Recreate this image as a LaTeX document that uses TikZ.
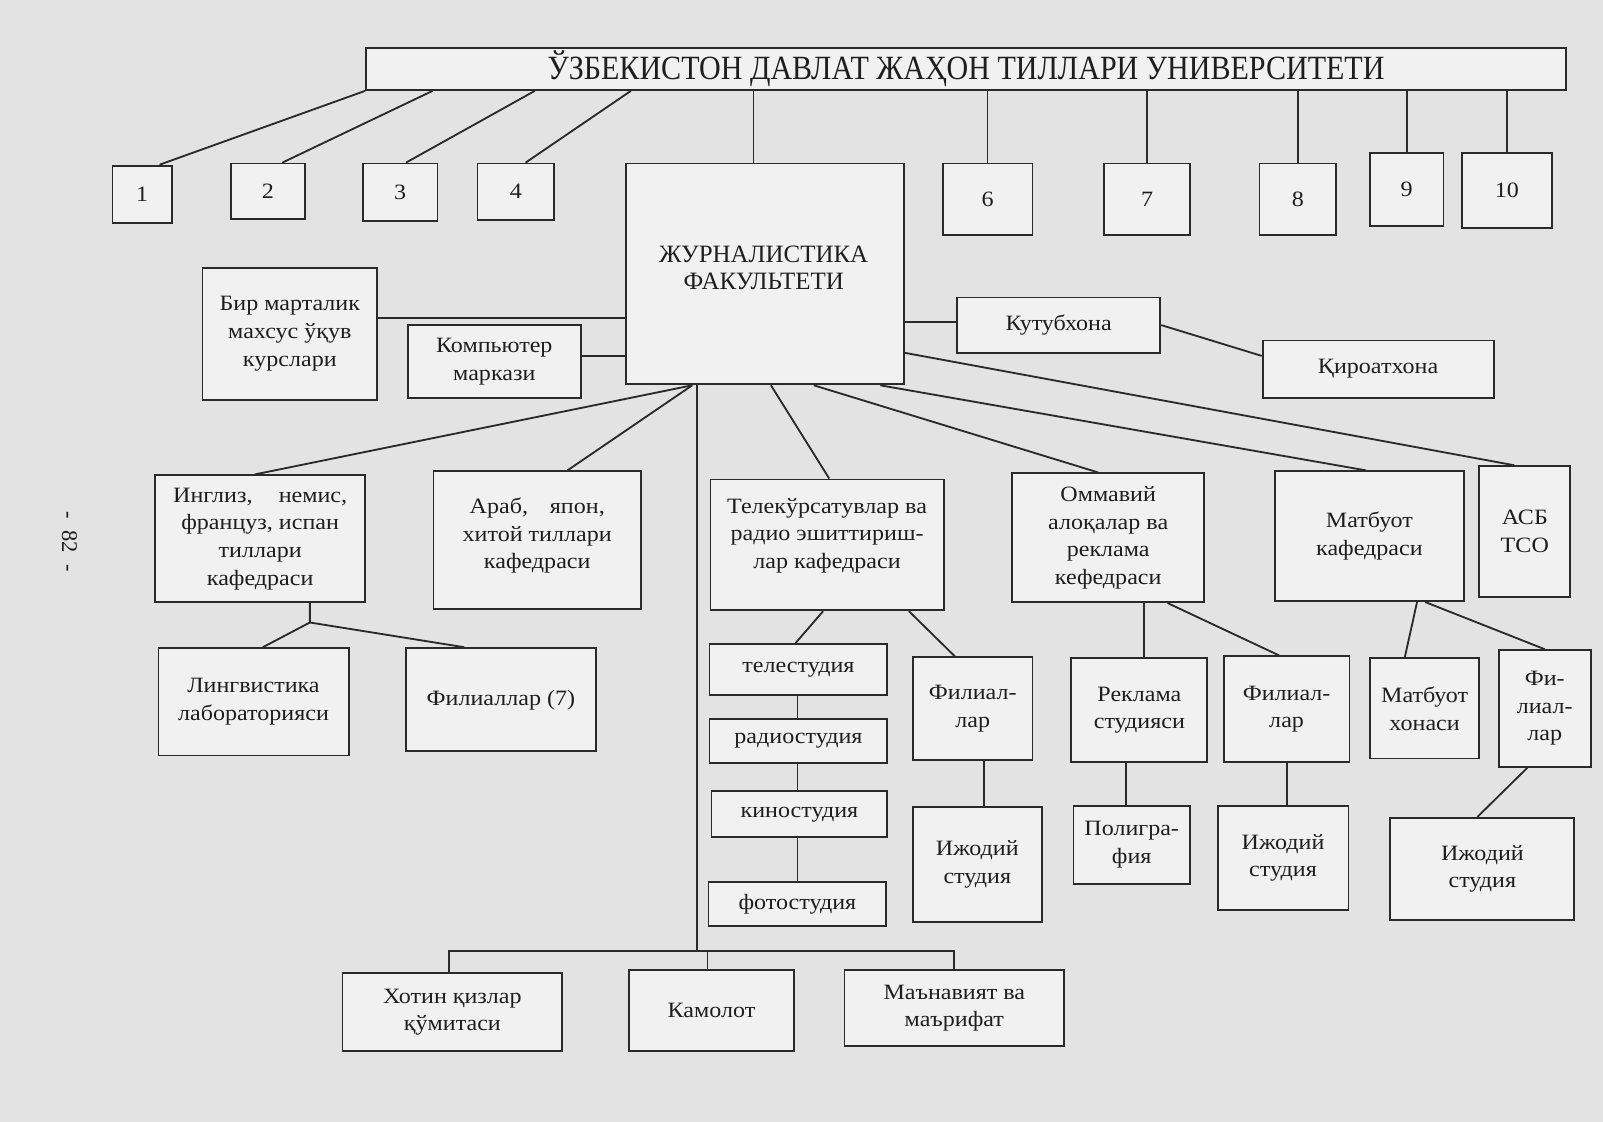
\documentclass[tikz,border=0pt]{standalone}
\usepackage{fontspec}
\setmainfont[FakeStretch=1.1]{Liberation Serif}
\newfontfamily\titlefont[FakeStretch=0.885]{Liberation Serif}
\newfontfamily\headfont{Liberation Serif}
\usetikzlibrary{calc}
\definecolor{bgc}{HTML}{E3E3E3}
\definecolor{boxc}{HTML}{F1F1F1}
\definecolor{linec}{HTML}{2A2A2A}
\definecolor{textc}{HTML}{1E1E1E}
\newcommand\bx[7][]{\node[box,#1,minimum width={(#5-#3)*0.5pt},minimum height={(#6-#4)*0.5pt}] (#2) at ({(#3+#5)/2},{(#4+#6)/2}) {#7};}
\begin{document}
\begin{tikzpicture}[x=0.5pt,y=-0.5pt,
  box/.style={draw=linec, fill=boxc, line width=0.9pt, inner sep=1pt, align=center, text=textc,
    font=\fontsize{10.7}{13.5}\selectfont},
  txt/.style={inner sep=0pt, align=center, text=textc, font=\fontsize{10.7}{13.5}\selectfont},
  conn/.style={draw=linec, line width=0.9pt}]
\fill[bgc] (0,0) rectangle (1568,1097);
\useasboundingbox (0,0) rectangle (1568,1097);

\bx[font=\titlefont\fontsize{16.6}{19}\selectfont]{top}{358}{47}{1532}{88}{ЎЗБЕКИСТОН ДАВЛАТ ЖАҲОН ТИЛЛАРИ УНИВЕРСИТЕТИ}
\bx{b1}{110}{162}{168}{218}{1}
\bx{b2}{226}{160}{298}{214}{2}
\bx{b3}{355}{160}{428}{216}{3}
\bx{b4}{467}{160}{542}{215}{4}
\bx{jur}{612}{160}{884}{376}{}
\node[txt, font=\headfont\fontsize{12.2}{13}\selectfont] (jurt) at (747,262) {ЖУРНАЛИСТИКА\\ФАКУЛЬТЕТИ};
\bx{b6}{922}{160}{1010}{230}{6}
\bx{b7}{1080}{160}{1164}{230}{7}
\bx{b8}{1232}{160}{1307}{230}{8}
\bx{b9}{1340}{150}{1412}{221}{9}
\bx{b10}{1430}{150}{1518}{223}{10}

\bx{bir}{198}{262}{369}{391}{Бир марталик\\махсус ўқув\\курслари}
\bx{comp}{399}{318}{568}{389}{Компьютер\\маркази}
\bx{kutub}{936}{291}{1135}{345}{Кутубхона}
\bx{qiroat}{1235}{333}{1461}{389}{Қироатхона}

\bx{ingl}{152}{465}{357}{589}{Инглиз,\hspace{1.2em}немис,\\француз, испан\\тиллари\\кафедраси}
\bx{arab}{424}{461}{627}{596}{}
\node[txt] (arabt) at (525.5,524) {Араб,\hspace{1em}япон,\\хитой тиллари\\кафедраси};
\bx{tele}{695}{469}{923}{597}{}
\node[txt] (telet) at (809,524) {Телекўрсатувлар ва\\радио эшиттириш-\\лар кафедраси};
\bx{omm}{990}{463}{1178}{589}{Оммавий\\алоқалар ва\\реклама\\кефедраси}
\bx{matb}{1247}{461}{1432}{588}{Матбуот\\кафедраси}
\bx{asb}{1447}{456}{1536}{584}{АСБ\\ТСО}

\bx{ling}{155}{634}{341}{739}{Лингвистика\\лабораторияси}
\bx{fil7}{397}{634}{583}{735}{Филиаллар (7)}
\bx{telest}{694}{630}{868}{680}{телестудия}
\bx{radio}{694}{703}{868}{746}{радиостудия}
\bx{kino}{696}{774}{868}{819}{киностудия}
\bx{foto}{693}{863}{867}{906}{фотостудия}
\bx{fila}{893}{643}{1010}{743}{Филиал-\\лар}
\bx{ijoda}{893}{789}{1019}{902}{Ижодий\\студия}
\bx{rekl}{1048}{644}{1181}{745}{Реклама\\студияси}
\bx{filb}{1197}{642}{1320}{745}{Филиал-\\лар}
\bx{polig}{1050}{788}{1164}{865}{Полигра-\\фия}
\bx{ijodb}{1191}{788}{1319}{890}{Ижодий\\студия}
\bx{mxon}{1340}{644}{1447}{742}{Матбуот\\хонаси}
\bx{filc}{1466}{636}{1556}{750}{Фи-\\лиал-\\лар}
\bx{ijodc}{1360}{800}{1540}{900}{Ижодий\\студия}
\bx{xotin}{335}{952}{550}{1028}{Хотин қизлар\\қўмитаси}
\bx{kamol}{615}{949}{777}{1028}{Камолот}
\bx{manav}{826}{949}{1041}{1023}{Маънавият ва\\маърифат}

\node[rotate=-90, text=textc, font=\headfont\fontsize{11}{13}\selectfont] (pg) at (68,530) {-\enspace 82\enspace -};

% university links
\draw[conn] (top.south west) -- ([xshift=23.5pt]b1.north west);
\draw[conn] ([xshift=33pt]top.south west) -- ([xshift=25.5pt]b2.north west);
\draw[conn] ([xshift=83pt]top.south west) -- ([xshift=21.5pt]b3.north west);
\draw[conn] ([xshift=130pt]top.south west) -- ([xshift=24pt]b4.north west);
\coordinate (jt) at ([xshift=63pt]jur.north west);
\draw[conn] (jt) -- (jt |- top.south);
\foreach \n in {6,7,8,9,10} {\draw[conn] (b\n.north) -- (b\n.north |- top.south);}

% side links
\coordinate (c1) at ([yshift=-25pt]bir.north east);
\draw[conn] (c1) -- (c1 -| jur.west);
\coordinate (c2) at ([yshift=-15.5pt]comp.north east);
\draw[conn] (c2) -- (c2 -| jur.west);
\coordinate (c3) at ([yshift=-12.5pt]kutub.north west);
\draw[conn] (c3) -- (c3 -| jur.east);
\draw[conn] (kutub.east) -- ([yshift=-8pt]qiroat.north west);

% departments
\coordinate (jb) at ([xshift=33pt]jur.south west);
\draw[conn] (jb) -- ([xshift=49pt]ingl.north west);
\draw[conn] (jb) -- ([xshift=66pt]arab.north west);
\draw[conn] ([xshift=71.5pt]jur.south west) -- ([xshift=58.5pt]tele.north west);
\draw[conn] ([xshift=92.5pt]jur.south west) -- ([xshift=42.5pt]omm.north west);
\draw[conn] ([xshift=125pt]jur.south west) -- ([xshift=45pt]matb.north west);
\draw[conn] ([yshift=-93pt]jur.north east) -- ([xshift=17.5pt]asb.north west);

% main vertical and bottom bus
\coordinate (v0) at ([xshift=35.5pt]jur.south west);
\coordinate (d1) at ([xshift=52.5pt]xotin.north west);
\coordinate (d2) at ([xshift=39pt]kamol.north west);
\coordinate (d3) at ([xshift=54pt]manav.north west);
\coordinate (bus) at ([yshift=10.5pt]d1);
\draw[conn] (d1) -- (bus) -- (bus -| d3) -- (d3);
\draw[conn] (d2) -- (d2 |- bus);
\draw[conn] (v0) -- (v0 |- bus);

% Inglis children
\coordinate (ib) at ([xshift=76pt]ingl.south west);
\coordinate (ij) at ([yshift=-9.5pt]ib);
\draw[conn] (ib) -- (ij) -- ([xshift=51.5pt]ling.north west);
\draw[conn] (ij) -- ([xshift=29pt]fil7.north west);

% Tele children
\draw[conn] ([xshift=55.5pt]tele.south west) -- ([xshift=42.5pt]telest.north west);
\coordinate (tv) at ([xshift=43.5pt]telest.south west);
\draw[conn] (tv) -- (tv |- radio.north);
\draw[conn] (tv |- radio.south) -- (tv |- kino.north);
\draw[conn] (tv |- kino.south) -- (tv |- foto.north);
\draw[conn] ([xshift=97.5pt]tele.south west) -- ([xshift=21pt]fila.north west);
\coordinate (fa) at ([xshift=35pt]fila.south west);
\draw[conn] (fa) -- (fa |- ijoda.north);

% Ommaviy children
\coordinate (oa) at ([xshift=65pt]omm.south west);
\draw[conn] (oa) -- (oa |- rekl.north);
\draw[conn] ([xshift=76.5pt]omm.south west) -- ([xshift=27.5pt]filb.north west);
\coordinate (ra) at ([xshift=27.25pt]rekl.south west);
\draw[conn] (ra) -- (ra |- polig.north);
\coordinate (fb) at ([xshift=31.5pt]filb.south west);
\draw[conn] (fb) -- (fb |- ijodb.north);

% Matbuot children
\draw[conn] ([xshift=70pt]matb.south west) -- ([xshift=17.5pt]mxon.north west);
\draw[conn] ([xshift=74pt]matb.south west) -- ([xshift=23pt]filc.north west);
\draw[conn] ([xshift=14.5pt]filc.south west) -- ([xshift=43pt]ijodc.north west);
\end{tikzpicture}
\end{document}
